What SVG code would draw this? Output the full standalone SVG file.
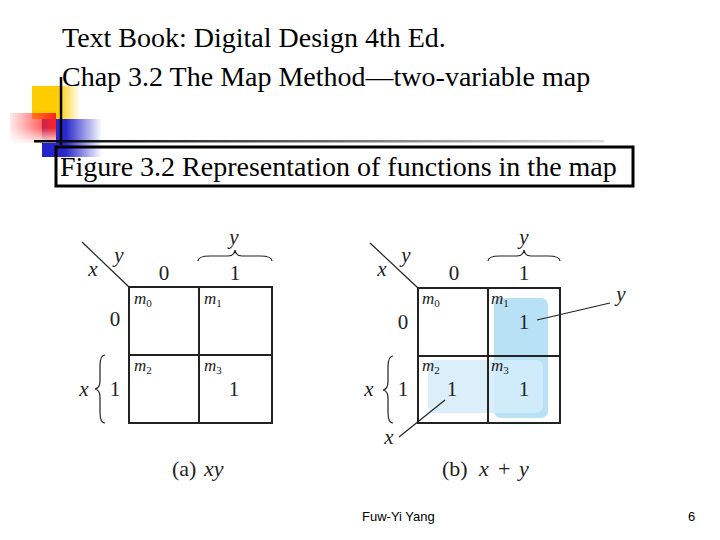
<svg xmlns="http://www.w3.org/2000/svg" width="720" height="540" viewBox="0 0 720 540">
<defs>
<linearGradient id="gy" x1="0" x2="1" y1="0" y2="0"><stop offset="0" stop-color="#ffcc00"/><stop offset="0.55" stop-color="#ffcc00"/><stop offset="1" stop-color="#ffcc00" stop-opacity="0"/></linearGradient>
<linearGradient id="gr" x1="0" x2="1" y1="0" y2="0"><stop offset="0" stop-color="#ff3333" stop-opacity="0.1"/><stop offset="1" stop-color="#ff2222"/></linearGradient>
<linearGradient id="gr2" x1="0" x2="0" y1="0" y2="1"><stop offset="0.5" stop-color="#fff" stop-opacity="0"/><stop offset="1" stop-color="#fff" stop-opacity="0.9"/></linearGradient>
<linearGradient id="gb" x1="0" x2="1" y1="0" y2="0"><stop offset="0" stop-color="#2222cc"/><stop offset="0.4" stop-color="#2a2acc"/><stop offset="1" stop-color="#2a2acc" stop-opacity="0"/></linearGradient>
<linearGradient id="gl" x1="0" x2="1" y1="0" y2="0"><stop offset="0" stop-color="#000"/><stop offset="0.5" stop-color="#666"/><stop offset="1" stop-color="#ddd"/></linearGradient>
</defs>
<style>
.t{font-family:"Liberation Serif","Times New Roman",serif;fill:#000}
.h{font-size:28px}
.n{font-size:21px;fill:#222;text-anchor:middle}
.c{font-size:22px;fill:#222}
.i{font-style:italic}
.m{font-size:17px;font-style:italic;fill:#222}
.s{font-size:11px;font-style:normal}
.g{fill:none;stroke:#222;stroke-width:2}
.l{fill:none;stroke:#222;stroke-width:1.2}
.f{font-family:"Liberation Sans",Arial,sans-serif;font-size:13px;fill:#000}
</style>
<rect width="720" height="540" fill="#fff"/>
<g id="header">
<rect x="32" y="86" width="48" height="33" fill="url(#gy)"/>
<rect x="42" y="119" width="60" height="38" fill="url(#gb)"/>
<rect x="10" y="113" width="46" height="30" fill="url(#gr)"/>
<rect x="10" y="113" width="46" height="30" fill="url(#gr2)"/>
<line x1="61" y1="77" x2="61" y2="145" stroke="#000" stroke-width="2.5"/>
<rect x="34" y="140" width="570" height="2.5" fill="url(#gl)"/>
<text class="t h" x="62" y="47">Text Book: Digital Design 4th Ed.</text>
<text class="t h" x="62" y="86">Chap 3.2 The Map Method—two-variable map</text>
</g>
<g id="title">
<rect x="56" y="147" width="577" height="39" fill="none" stroke="#000" stroke-width="3"/>
<text class="t h" x="60" y="176">Figure 3.2 Representation of functions in the map</text>
</g>
<g id="map-a">
<rect class="g" x="129" y="287" width="143" height="136"/>
<line class="g" x1="199" y1="287" x2="199" y2="423"/>
<line class="g" x1="129" y1="355" x2="272" y2="355"/>
<line class="l" x1="82" y1="242" x2="129" y2="287"/>
<text class="t n i" x="119" y="262">y</text>
<text class="t n i" x="93" y="276">x</text>
<text class="t n" x="164" y="280">0</text>
<text class="t n" x="235" y="280">1</text>
<path class="l" d="M198,261 Q198,256 210,256 L228,256 Q234,256 235,250 Q236,256 242,256 L260,256 Q272,256 272,261"/>
<text class="t n i" x="234" y="244">y</text>
<text class="t n" x="115" y="326">0</text>
<path class="l" d="M105,355 Q100,355 100,366 L100,381 Q100,388 95,389 Q100,390 100,397 L100,412 Q100,423 105,423"/>
<text class="t n i" x="84" y="396">x</text>
<text class="t n" x="115" y="396">1</text>
<text class="t m" x="134" y="304">m<tspan class="s" dy="3">0</tspan></text>
<text class="t m" x="204" y="304">m<tspan class="s" dy="3">1</tspan></text>
<text class="t m" x="134" y="371">m<tspan class="s" dy="3">2</tspan></text>
<text class="t m" x="204" y="371">m<tspan class="s" dy="3">3</tspan></text>
<text class="t n" x="234" y="396">1</text>
<text class="t c" y="476"><tspan x="172">(a)</tspan><tspan class="i" x="204">xy</tspan></text>
</g>
<g id="map-b">
<rect x="494" y="298" width="54" height="120" rx="7" fill="#b9e1f5"/>
<rect x="428" y="360" width="115" height="53" rx="7" fill="#d3ecf9" fill-opacity="0.85"/>
<rect class="g" x="418" y="288" width="142" height="135"/>
<line class="g" x1="488" y1="288" x2="488" y2="423"/>
<line class="g" x1="418" y1="356" x2="560" y2="356"/>
<line class="l" x1="370" y1="243" x2="418" y2="288"/>
<text class="t n i" x="406" y="262">y</text>
<text class="t n i" x="382" y="276">x</text>
<text class="t n" x="454" y="280">0</text>
<text class="t n" x="524" y="280">1</text>
<path class="l" d="M488,261 Q488,256 500,256 L517,256 Q523,256 524,250 Q525,256 531,256 L548,256 Q560,256 560,261"/>
<text class="t n i" x="524" y="244">y</text>
<text class="t n" x="403" y="329">0</text>
<path class="l" d="M393,356 Q388,356 388,367 L388,382 Q388,389 383,390 Q388,391 388,398 L388,412 Q388,423 393,423"/>
<text class="t n i" x="369" y="396">x</text>
<text class="t n" x="403" y="396">1</text>
<text class="t m" x="422" y="304">m<tspan class="s" dy="3">0</tspan></text>
<text class="t m" x="491" y="304">m<tspan class="s" dy="3">1</tspan></text>
<text class="t m" x="422" y="371">m<tspan class="s" dy="3">2</tspan></text>
<text class="t m" x="491" y="371">m<tspan class="s" dy="3">3</tspan></text>
<text class="t n" x="524" y="329">1</text>
<text class="t n" x="452" y="396">1</text>
<text class="t n" x="524" y="396">1</text>
<text class="t n i" x="621" y="301">y</text>
<text class="t n i" x="389" y="444">x</text>
<text class="t c" y="476"><tspan x="442">(b)</tspan><tspan class="i" x="479">x</tspan><tspan x="498">+</tspan><tspan class="i" x="519">y</tspan></text>
</g>
<g id="connectors">
<line class="l" x1="537" y1="320" x2="610" y2="303"/>
<line class="l" x1="445" y1="400" x2="399" y2="437"/>
</g>
<g id="footer">
<text class="f" x="362" y="521">Fuw-Yi Yang</text>
<text class="f" x="688" y="521">6</text>
</g>
</svg>
